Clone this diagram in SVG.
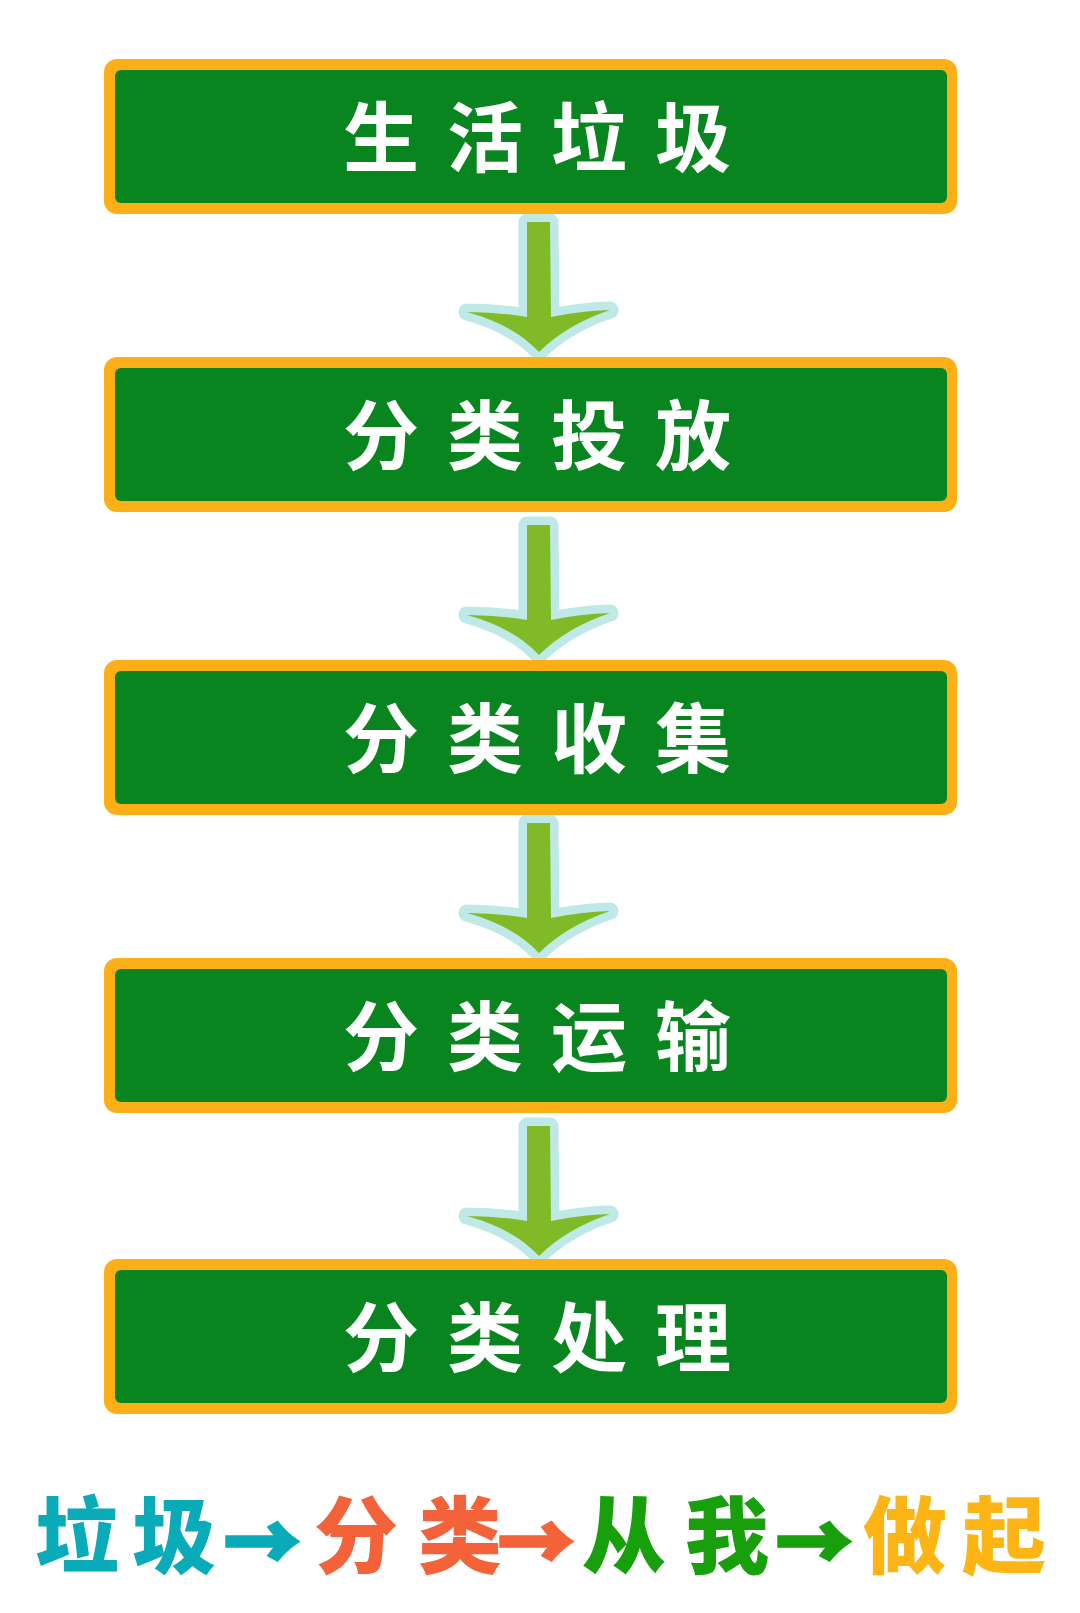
<svg xmlns="http://www.w3.org/2000/svg" xmlns:xlink="http://www.w3.org/1999/xlink" width="1080" height="1613" viewBox="0 0 1080 1613">
<style>
.frame{fill:#FCAF17}
.panel{fill:#08851F}
.lbl{font-family:"Noto Sans CJK SC","Noto Sans",sans-serif;font-weight:700;font-size:76px;fill:#FFFFFF}
.arw{fill:#80BA26;stroke:#BFE9E7;stroke-width:17;stroke-linejoin:round;paint-order:stroke}
.slogan{font-family:"Noto Sans CJK SC","Noto Sans",sans-serif;font-weight:900;font-size:84px}
.sym{font-family:"Noto Sans CJK SC","Noto Sans",sans-serif;font-weight:900;font-size:76px;stroke-width:3.5}
.teal{fill:#0AABB9}
.red{fill:#F4623A}
.grn{fill:#17A00B}
.org{fill:#FDB515}
.sym.teal{stroke:#0AABB9}
.sym.red{stroke:#F4623A}
.sym.grn{stroke:#17A00B}
</style>
<defs>
<path id="arrowShape" d="M527,-130 L550,-130 L551,-35 Q580,-41 610,-42 Q566,-27 539,0 Q514,-27 467,-40 Q497,-40 527,-35 Z"/>
</defs>
<rect width="1080" height="1613" fill="#FFFFFF"/>
<g id="connectors">
<use xlink:href="#arrowShape" class="arw" transform="translate(0,352)"/>
<use xlink:href="#arrowShape" class="arw" transform="translate(0,655)"/>
<use xlink:href="#arrowShape" class="arw" transform="translate(0,953)"/>
<use xlink:href="#arrowShape" class="arw" transform="translate(0,1256)"/>
</g>
<g id="node1">
<rect class="frame" x="104" y="59" width="853" height="155" rx="13"/>
<rect class="panel" x="115" y="70" width="832" height="133" rx="6"/>
<text class="lbl" x="343 447 551 655" y="166">生活垃圾</text>
</g>
<g id="node2">
<rect class="frame" x="104" y="357" width="853" height="155" rx="13"/>
<rect class="panel" x="115" y="368" width="832" height="133" rx="6"/>
<text class="lbl" x="343 447 551 655" y="464">分类投放</text>
</g>
<g id="node3">
<rect class="frame" x="104" y="660" width="853" height="155" rx="13"/>
<rect class="panel" x="115" y="671" width="832" height="133" rx="6"/>
<text class="lbl" x="343 447 551 655" y="767">分类收集</text>
</g>
<g id="node4">
<rect class="frame" x="104" y="958" width="853" height="155" rx="13"/>
<rect class="panel" x="115" y="969" width="832" height="133" rx="6"/>
<text class="lbl" x="343 447 551 655" y="1065">分类运输</text>
</g>
<g id="node5">
<rect class="frame" x="104" y="1259" width="853" height="155" rx="13"/>
<rect class="panel" x="115" y="1270" width="832" height="133" rx="6"/>
<text class="lbl" x="343 447 551 655" y="1366">分类处理</text>
</g>
<g id="slogan">
<text class="slogan teal" x="35 132" y="1567">垃圾</text>
<text class="sym teal" x="224" y="1570">→</text>
<text class="slogan red" x="314 418" y="1567">分类</text>
<text class="sym red" x="498" y="1570">→</text>
<text class="slogan grn" x="582 685" y="1567">从我</text>
<text class="sym grn" x="776" y="1570">→</text>
<text class="slogan org" x="863 962" y="1567">做起</text>
</g>
</svg>
